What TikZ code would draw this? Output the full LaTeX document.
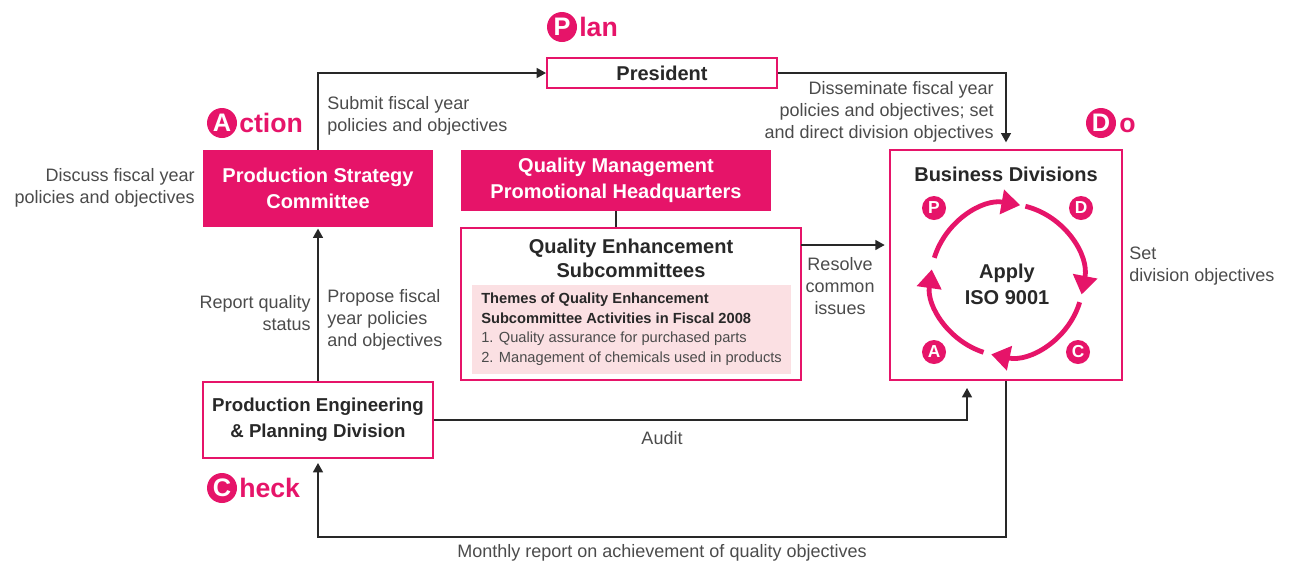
\documentclass[tikz,border=0pt]{standalone}
\usepackage{fontspec}
\setmainfont{Liberation Sans}
\usetikzlibrary{arrows.meta}
\definecolor{pk}{RGB}{230,20,105}
\definecolor{lpk}{RGB}{251,224,227}
\definecolor{tx}{RGB}{40,40,40}
\definecolor{lb}{RGB}{75,75,75}
\begin{document}
\begin{tikzpicture}[x=0.75pt,y=-0.75pt,
  lbl/.style={text=lb,font=\fontsize{13.5}{16.5}\selectfont,inner sep=0pt},
  conn/.style={draw=tx,line width=1.1pt,-{Triangle[length=7pt,width=7.5pt]}},
  fbox/.style={fill=pk,text=white,font=\bfseries\fontsize{15}{19.5}\selectfont,align=center,inner sep=0pt},
  obox/.style={draw=pk,line width=1.5pt,fill=white,text=tx,font=\bfseries\fontsize{15}{19.5}\selectfont,align=center,inner sep=0pt},
  bigc/.style={circle,fill=pk,text=white,minimum size=22.5pt,inner sep=0pt,font=\bfseries\fontsize{19}{19}\selectfont},
  bigt/.style={text=pk,font=\bfseries\fontsize{20}{20}\selectfont,inner sep=0pt,anchor=base west},
  smc/.style={circle,fill=pk,text=white,minimum size=18pt,inner sep=0pt,font=\bfseries\fontsize{13}{13}\selectfont},
  cyc/.style={draw=pk,line width=3.6pt,-{Triangle[length=14pt,width=18pt]}}
]
\useasboundingbox (0,0) rectangle (1295,569);

% boxes
\node[obox,minimum width=172.5pt,minimum height=22.5pt] (pres) at (662,73) {President};
\node[fbox,minimum width=172.5pt,minimum height=57.75pt] (psc) at (318,188.5) {Production Strategy\\Committee};
\node[fbox,minimum width=232.5pt,minimum height=45.75pt] (qmph) at (616,180.5) {Quality Management\\Promotional Headquarters};
\node[obox,minimum width=255pt,minimum height=114pt] (qes) at (631,304) {};
\node[fill=lpk,minimum width=239.25pt,minimum height=66.75pt,inner sep=0pt] (thm) at (631.5,329.5) {};
\node[text=tx,font=\bfseries\fontsize{15}{17.5}\selectfont,align=center,inner sep=0pt] (qest) at (631,258.5) {Quality Enhancement\\Subcommittees};
\node[anchor=west,align=left,inner sep=0pt,text=lb,font=\fontsize{11}{14.6}\selectfont] (thmt) at (481,329)
  {\textcolor{tx}{\bfseries Themes of Quality Enhancement}\\\textcolor{tx}{\bfseries Subcommittee Activities in Fiscal 2008}\\1. Quality assurance for purchased parts\\2. Management of chemicals used in products};
\node[obox,minimum width=174pt,minimum height=172.5pt] (bd) at (1006,265) {};
\node[text=tx,font=\bfseries\fontsize{15}{17.5}\selectfont,inner sep=0pt] (bdt) at (1006,174) {Business Divisions};
\node[text=tx,font=\bfseries\fontsize{15}{19.5}\selectfont,align=center,inner sep=0pt] (iso) at (1007,284) {Apply\\ISO 9001};
\node[obox,minimum width=172.5pt,minimum height=57pt,font=\bfseries\fontsize{14}{19.5}\selectfont] (pepd) at (318,420) {Production Engineering\\\& Planning Division};

% PDCA headers
\node[bigc] (cp) at (562,27) {P};
\node[bigt] (tp) at (579,36) {lan};
\node[bigc] (ca) at (222,123) {A};
\node[bigt] (ta) at (239,132) {ction};
\node[bigc] (cd) at (1101,123) {D};
\node[bigt] (td) at (1119,132) {o};
\node[bigc] (cc) at (222,488) {C};
\node[bigt] (tc) at (239,497) {heck};

% cycle
\begin{scope}[shift={(1007,280)},yscale=-1]
  \draw[cyc] (163:76) arc[start angle=163,end angle=80,radius=76];
  \draw[cyc] (76:76) arc[start angle=76,end angle=-11,radius=76];
  \draw[cyc] (-17:76) arc[start angle=-17,end angle=-102,radius=76];
  \draw[cyc] (-108:76) arc[start angle=-108,end angle=-188,radius=76];
\end{scope}
\node[smc] (sp) at (934,208) {P};
\node[smc] (sd) at (1081,208) {D};
\node[smc] (sa) at (934,352) {A};
\node[smc] (sc) at (1078,352) {C};

% connectors
\coordinate (qesR) at (801,245);
\coordinate (bdL) at (890,245);
\coordinate (bdB) at (967,380);
\draw[conn] (psc.north) |- (pres.west);
\draw[conn,shorten >=5pt] (pres.east) -| (bd.north);
\draw[conn,shorten >=1pt] (pepd.north) -- (psc.south);
\draw[draw=tx,line width=1.1pt] (qmph.south) -- (qmph.south |- qes.north);
\draw[conn,shorten >=4pt] (qesR) -- (bdL);
\draw[conn,shorten >=6pt] (pepd.east) -| (bdB);
\draw[conn,shorten >=3pt] (bd.south) -- ++(0,156) -| (pepd.south);

% labels
\node[lbl,align=left,anchor=west] (l1) at (327,116) {Submit fiscal year\\policies and objectives};
\node[lbl,align=right,anchor=east] (l2) at (195,188) {Discuss fiscal year\\policies and objectives};
\node[lbl,align=right,anchor=east] (l3) at (994,112) {Disseminate fiscal year\\policies and objectives; set\\and direct division objectives};
\node[lbl,align=right,anchor=east] (l4) at (311,313) {Report quality\\status};
\node[lbl,align=left,anchor=west] (l5) at (327,320) {Propose fiscal\\year policies\\and objectives};
\node[lbl,align=center] (l6) at (840,286) {Resolve\\common\\issues};
\node[lbl,align=left,anchor=west] (l7) at (1129,266) {Set\\division objectives};
\node[lbl] (l8) at (662,438) {Audit};
\node[lbl] (l9) at (662,553) {Monthly report on achievement of quality objectives};
\end{tikzpicture}
\end{document}
